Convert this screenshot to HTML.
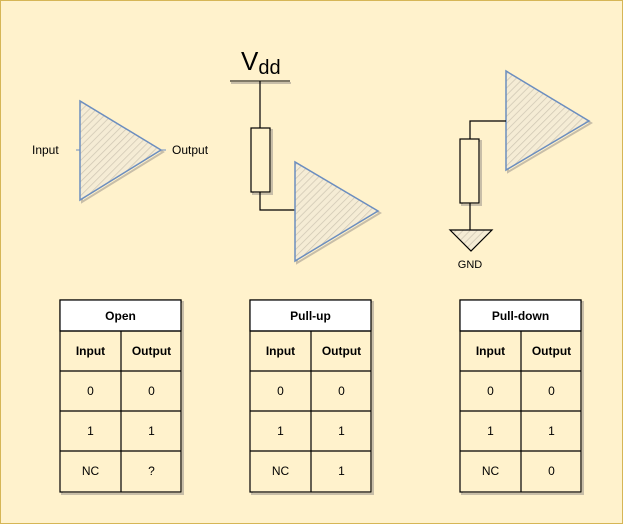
<!DOCTYPE html>
<html><head><style>
body{margin:0;background:#fff}
svg{display:block;font-family:"Liberation Sans",Arial,sans-serif}
</style></head><body>
<svg width="623" height="524" viewBox="0 0 623 524">
<defs>
<pattern id="hatch" patternUnits="userSpaceOnUse" width="5" height="5" patternTransform="rotate(45)">
<rect width="5" height="5" fill="#f5ecd5"/><line x1="0" y1="0" x2="0" y2="5" stroke="#cfc7b3" stroke-width="1.5"/>
</pattern>
</defs>
<rect x="0.5" y="0.5" width="622" height="523" fill="#fff2cc" stroke="#d6b656"/>

<!-- open buffer -->
<g>
<line x1="76" y1="150" x2="80" y2="150" stroke="#6c8ebf"/>
<line x1="161" y1="150" x2="166" y2="150" stroke="#6c8ebf"/>
<polygon points="82,103 82,202 163,152" fill="none" stroke="#c8bea8" stroke-width="2"/>
<polygon points="80,101 80,200 161,150" fill="url(#hatch)" stroke="#6c8ebf" stroke-width="1.5"/>
<text x="32" y="154" font-size="12" fill="#000">Input</text>
<text x="172" y="154" font-size="12" fill="#000">Output</text>
</g>

<!-- pull-up -->
<g>
<text x="241" y="70" font-size="26" fill="#000">V<tspan font-size="20" dy="4">dd</tspan></text>
<line x1="231" y1="83" x2="291" y2="83" stroke="#c8bea8" stroke-width="2"/>
<line x1="230" y1="81" x2="290" y2="81" stroke="#000" stroke-width="1"/>
<line x1="260" y1="81" x2="260" y2="128" stroke="#000" stroke-width="1.2"/>
<rect x="253" y="130" width="19" height="64" fill="none" stroke="#c8bea8" stroke-width="2"/>
<rect x="251" y="128" width="19" height="64" fill="#fff2cc" stroke="#000" stroke-width="1.2"/>
<polyline points="260,192 260,210 295,210" fill="none" stroke="#000" stroke-width="1.2"/>
<polygon points="297,164 297,263 380,213" fill="none" stroke="#c8bea8" stroke-width="2"/>
<polygon points="295,162 295,261 378,211" fill="url(#hatch)" stroke="#6c8ebf" stroke-width="1.5"/>
</g>

<!-- pull-down -->
<g>
<polygon points="508,73 508,172 591,123" fill="none" stroke="#c8bea8" stroke-width="2"/>
<polygon points="506,71 506,170 589,121" fill="url(#hatch)" stroke="#6c8ebf" stroke-width="1.5"/>
<polyline points="506,121 470,121 470,139" fill="none" stroke="#000" stroke-width="1.2"/>
<rect x="462" y="141" width="19" height="64" fill="none" stroke="#c8bea8" stroke-width="2"/>
<rect x="460" y="139" width="19" height="64" fill="#fff2cc" stroke="#000" stroke-width="1.2"/>
<line x1="470" y1="203" x2="470" y2="230" stroke="#000" stroke-width="1.2"/>
<polygon points="450,230 492,230 471,251" fill="url(#hatch)" stroke="#000" stroke-width="1.2"/>
<text x="470" y="268" font-size="11" text-anchor="middle">GND</text>
</g>

<g id="tables"></g>
</svg>
<script>
const tables=[
 {x:60,title:"Open",name:"open-table",rows:[["0","0"],["1","1"],["NC","?"]]},
 {x:250,title:"Pull-up",name:"pull-up-table",rows:[["0","0"],["1","1"],["NC","1"]]},
 {x:460,title:"Pull-down",name:"pull-down-table",rows:[["0","0"],["1","1"],["NC","0"]]}
];
const g=document.getElementById('tables');
const NS="http://www.w3.org/2000/svg";
function mk(tag,attrs,parent){const e=document.createElementNS(NS,tag);for(const k in attrs)e.setAttribute(k,attrs[k]);parent.appendChild(e);return e;}
tables.forEach(t=>{
 const tg=mk('g',{},g);
 
 
 const x=t.x,y=300,w=121,h=192;
 mk('rect',{x:x+2,y:y+2,width:w,height:h,fill:'none',stroke:'#c8bea8','stroke-width':2},tg);
 mk('rect',{x:x,y:y,width:w,height:h,fill:'#fff2cc',stroke:'#000','stroke-width':1.2},tg);
 mk('rect',{x:x,y:y,width:w,height:31,fill:'#fff',stroke:'#000','stroke-width':1.2},tg);
 const ys=[331,371,411,451];
 ys.forEach(yy=>mk('line',{x1:x,y1:yy,x2:x+w,y2:yy,stroke:'#000','stroke-width':1.2},tg));
 mk('line',{x1:x+61,y1:331,x2:x+61,y2:492,stroke:'#000','stroke-width':1.2},tg);
 const tt=mk('text',{x:x+w/2,y:320,'font-size':12,'font-weight':'bold','text-anchor':'middle'},tg);
 tt.textContent=t.title;
 
 
 const rows=[["Input","Output"]].concat(t.rows);
 rows.forEach((r,i)=>{
  r.forEach((c,j)=>{
   const te=mk('text',{x:x+30.5+j*61,y:355+i*40,'font-size':12,'text-anchor':'middle','font-weight':i==0?'bold':'normal'},tg);
   te.textContent=c;
   
   
  });
 });
});
</script>
</body></html>
